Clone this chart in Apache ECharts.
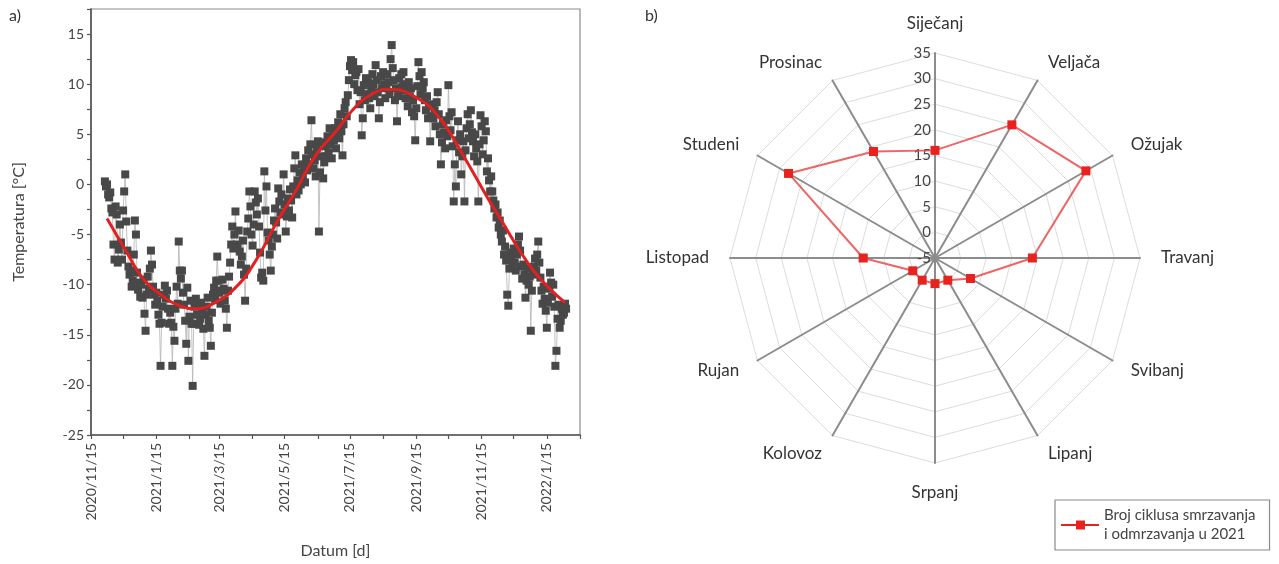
<!DOCTYPE html>
<html>
<head>
<meta charset="utf-8">
<script src="https://cdn.jsdelivr.net/npm/echarts@6/dist/echarts.min.js"></script>
<style>
  html, body { margin: 0; padding: 0; background: #fff; }
  #chart { width: 1279px; height: 564px; }
</style>
</head>
<body>
<div id="chart"></div>
<script>
// ---- a) daily air temperature ----
const tempStart = '2020-11-28';
const dailyTemp = [
  // Nov 2020 (28-30)
  0.3, -0.2, 0,
  // Dec 2020
  -1.0, -1.3, -0.8, -2.4, -2.8, -6.0, -7.5, -2.2, -3.0, -7.8, -6.5, -4.0, -5.8, -7.5, -2.6, -0.7,
  1.0, -3.7, -6.6, -8.2, -9.0, -8.6, -10.2, -9.6, -7.0, -3.6, -5.0, -8.8, -10.5, -9.8, -11.2,
  // Jan 2021
  -10.0, -11.3, -9.5, -12.9, -14.6, -11.0, -9.2, -10.4, -8.4, -6.6, -8.0, -10.2, -11.0, -12.0, -10.8, -11.6,
  -13.0, -13.9, -18.1, -13.8, -12.2, -11.0, -10.1, -11.4, -10.6, -12.4, -13.9, -12.8, -13.8, -18.1, -14.2,
  // Feb 2021
  -15.6, -12.4, -10.2, -11.9, -5.7, -8.6, -9.4, -8.6, -10.8, -12.0, -13.6, -15.9, -10.3, -17.6,
  -13.2, -11.6, -13.9, -20.1, -13.9, -12.2, -11.4, -13.0, -12.0, -14.0, -13.4, -11.8, -12.6, -14.4,
  // Mar 2021
  -17.1, -13.0, -12.2, -11.3, -13.6, -14.3, -16.1, -12.8, -11.0, -10.3, -11.5, -9.6, -7.2, -9.6, -10.8, -11.9,
  -10.6, -9.5, -10.4, -11.6, -12.4, -14.3, -10.6, -9.2, -7.8, -6.0, -4.2, -6.4, -5.0, -2.7, -6.0,
  // Apr 2021
  -6.3, -4.6, -6.7, -8.0, -7.2, -5.6, -9.0, -11.6, -8.4, -4.7, -3.4, -0.7, -2.2, -5.0, -6.1,
  -4.0, -0.7, -1.8, -3.0, -1.4, -4.2, -6.8, -9.3, -8.8, -9.6, 1.3, -2.6, -0.2, -4.8, -5.6,
  // May 2021
  -7.0, -8.6, -6.2, -5.0, -3.6, -2.4, -3.8, -5.4, -0.4, -1.7, -2.8, -1.0, -3.0, 1.0, -2.0, -4.7,
  -3.2, -1.4, -2.6, -0.5, -1.6, -3.3, -0.2, 1.6, 2.9, -1.0, 0.4, -0.6, 1.2, 0.0, 2.0,
  // Jun 2021
  0.8, 1.8, 0.2, 2.6, 1.4, 3.4, 2.0, 4.0, 6.4, 3.0, 1.6, 2.4, 0.8, 3.6, 4.3,
  -4.7, 1.2, 2.8, 4.2, 0.6, 2.2, 3.8, 2.8, 4.8, 3.2, 5.6, 4.0, 2.6, 5.0, 4.4,
  // Jul 2021
  5.6, 3.6, 5.0, 6.2, 4.6, 7.0, 5.3, 2.9, 6.0, 7.6, 8.2, 6.8, 8.9, 10.4, 11.8, 12.4,
  11.4, 12.2, 10.0, 10.9, 11.2, 9.4, 11.5, 8.0, 9.2, 4.9, 6.6, 9.9, 8.4, 10.6, 9.0,
  // Aug 2021
  10.2, 8.6, 7.6, 9.6, 11.0, 10.0, 8.8, 11.9, 10.4, 9.2, 6.6, 8.2, 10.8, 9.6, 11.2, 10.0,
  8.6, 9.8, 11.0, 10.2, 9.0, 12.5, 13.9, 11.6, 10.4, 8.4, 9.6, 6.3, 8.8, 10.6, 9.4,
  // Sep 2021
  11.0, 9.8, 11.2, 10.0, 8.6, 9.4, 7.8, 10.2, 8.8, 9.6, 7.2, 8.4, 6.8, 4.4, 7.6,
  9.8, 12.2, 10.8, 9.0, 11.2, 9.6, 10.2, 8.4, 7.4, 8.8, 6.6, 7.8, 4.3, 6.8, 8.0,
  // Oct 2021
  6.6, 7.4, 5.8, 8.2, 9.2, 7.0, 5.0, 2.0, 4.2, 6.0, 5.2, 3.6, 6.4, 4.8, 9.9, 6.8,
  5.4, 7.2, 3.8, -1.7, 2.0, -0.2, 4.4, 6.3, 3.2, 5.0, 1.0, 2.8, 4.3, -1.7, 3.4,
  // Nov 2021
  5.6, 7.0, 4.6, 6.0, 7.4, 5.2, 4.3, 2.8, 5.0, 3.6, 2.3, -1.7, 4.0, 6.9, 5.8,
  3.0, 4.4, 6.3, 5.3, 1.3, 2.6, 0.4, -0.7, 0.8, -0.7, -1.6, -2.4, -2.0, -3.3, -2.8,
  // Dec 2021
  -4.3, -3.6, -5.0, -5.7, -4.6, -7.0, -6.2, -7.6, -11.0, -12.1, -8.4, -6.8, -7.4, -8.0, -6.4, -7.8,
  -8.6, -7.0, -6.0, -5.2, -6.6, -8.2, -9.4, -8.0, -9.0, -11.3, -9.6, -8.4, -10.0, -9.2, -14.6,
  // Jan 2022
  -10.6, -9.0, -8.2, -7.4, -8.6, -7.0, -5.7, -7.8, -9.3, -10.6, -11.9, -10.2, -11.4, -12.6, -14.3, -11.8,
  -10.4, -8.8, -9.8, -11.2, -10.0, -12.2, -18.1, -16.6, -13.4, -12.0, -14.3, -13.6, -12.4, -13.0, -12.8,
  // Feb 2022
  -11.9, -12.4
];

// fitted seasonal curve
const fitDates = ['2020-11-30', '2020-12-18', '2021-01-02', '2021-01-18', '2021-02-06', '2021-02-21',
  '2021-03-09', '2021-03-30', '2021-04-18', '2021-05-07', '2021-05-25', '2021-06-13', '2021-07-02',
  '2021-07-19', '2021-08-03', '2021-08-20', '2021-09-16', '2021-10-07', '2021-10-26', '2021-11-21',
  '2021-12-03', '2021-12-28', '2022-01-14', '2022-02-01'];
const fitTemp = [-3.4, -6.7, -9.3, -10.9, -12.1, -12.4, -11.9, -10.3, -7.6, -3.9, -0.7, 2.9, 5.3,
  7.6, 8.9, 9.5, 8.6, 6.6, 3.4, -1.4, -3.5, -7.8, -10.0, -11.8];

// date axis: labelled every two months, ticks every month
const dateLabels = ['2020-11-15', '2021-01-15', '2021-03-15', '2021-05-15', '2021-07-15',
  '2021-09-15', '2021-11-15', '2022-01-15'];
const dateTicks = ['2020-11-15', '2020-12-15', '2021-01-15', '2021-02-15', '2021-03-15', '2021-04-15',
  '2021-05-15', '2021-06-15', '2021-07-15', '2021-08-15', '2021-09-15', '2021-10-15', '2021-11-15',
  '2021-12-15', '2022-01-15', '2022-02-15'];
const tempLabels = [-25, -20, -15, -10, -5, 0, 5, 10, 15];
const tempTicks = [-25, -22.5, -20, -17.5, -15, -12.5, -10, -7.5, -5, -2.5, 0, 2.5, 5, 7.5, 10, 12.5, 15, 17.5];

// ---- b) freeze-thaw cycles per month in 2021 ----
const months = ['Siječanj', 'Veljača', 'Ožujak', 'Travanj', 'Svibanj', 'Lipanj',
  'Srpanj', 'Kolovoz', 'Rujan', 'Listopad', 'Studeni', 'Prosinac'];
const cycles = [16, 25, 29, 14, 3, 0, 0, 0, 0, 9, 28, 19];
const cycleTicks = [-5, 35];
const seriesName = 'Broj ciklusa smrzavanja\ni odmrzavanja u 2021';

// day number counted from the first axis date
const BASE = Date.UTC(2020, 10, 15);
function dayOf(s) {
  const p = s.split('-').map(Number);
  return (Date.UTC(p[0], p[1] - 1, p[2]) - BASE) / 864e5;
}
function dayLabel(v) {
  const d = new Date(BASE + Math.round(v) * 864e5);
  return d.getUTCFullYear() + '/' + (d.getUTCMonth() + 1) + '/' + d.getUTCDate();
}
const startDay = dayOf(tempStart);
const tempData = dailyTemp.map((t, i) => [startDay + i, t]);
const fitData = fitDates.map((s, i) => [dayOf(s), fitTemp[i]]);

// radar indicators run counter-clockwise from the top, so order them
// Jan, Dec, Nov, ... Feb to place the months clockwise
const order = [0, 11, 10, 9, 8, 7, 6, 5, 4, 3, 2, 1];
const indicators = order.map((k, j) => {
  const ind = { name: months[k], min: cycleTicks[0], max: cycleTicks[1] };
  if (j === 0) ind.axisLabel = { show: true };
  return ind;
});
const radarValues = order.map(k => cycles[k]);

// legend key: thin line with a square marker in the middle
const legendIcon = 'path://M0,4 L38,4 L38,6 L0,6 Z M15,0.5 L24,0.5 L24,9.5 L15,9.5 Z';

const FONT = 'Lato';
const chart = echarts.init(document.getElementById('chart'), null, { renderer: 'canvas' });
chart.setOption({
  animation: false,
  textStyle: { fontFamily: FONT },
  graphic: [
    { type: 'text', left: 9, top: 8, style: { text: 'a)', fontSize: 16, fill: '#333', fontFamily: FONT } },
    { type: 'text', left: 645, top: 8, style: { text: 'b)', fontSize: 16, fill: '#333', fontFamily: FONT } }
  ],
  grid: {
    left: 91, top: 9, width: 489, height: 427,
    show: true, borderColor: '#8a8a8a', borderWidth: 1.2, backgroundColor: 'transparent'
  },
  xAxis: {
    type: 'value',
    min: dayOf(dateTicks[0]),
    max: dayOf(dateTicks[dateTicks.length - 1]),
    name: 'Datum [d]',
    nameLocation: 'middle',
    nameGap: 108,
    nameTextStyle: { fontSize: 16, color: '#444', fontFamily: FONT },
    axisLine: { show: true, onZero: false, lineStyle: { color: '#555', width: 1.6 } },
    axisTick: { show: true, inside: false, length: 4, customValues: dateTicks.map(dayOf),
      lineStyle: { color: '#555', width: 1.2 } },
    axisLabel: {
      customValues: dateLabels.map(dayOf),
      formatter: dayLabel,
      rotate: 90, margin: 8, fontSize: 14, color: '#444', fontFamily: FONT
    },
    splitLine: { show: false }
  },
  yAxis: {
    type: 'value',
    min: -25, max: 17.5,
    name: 'Temperatura [°C]',
    nameLocation: 'middle',
    nameGap: 64,
    nameTextStyle: { fontSize: 16, color: '#444', fontFamily: FONT },
    axisLine: { show: true, onZero: false, lineStyle: { color: '#555', width: 1.6 } },
    axisTick: { show: true, inside: false, length: 4, customValues: tempTicks,
      lineStyle: { color: '#555', width: 1.2 } },
    axisLabel: { customValues: tempLabels, margin: 7, fontSize: 14, color: '#444', fontFamily: FONT },
    splitLine: { show: false }
  },
  radar: {
    center: [935, 258],
    radius: 205,
    startAngle: 90,
    splitNumber: 8,
    shape: 'polygon',
    indicator: indicators,
    nameGap: 21,
    axisName: { color: '#333', fontSize: 17, fontFamily: FONT },
    axisLine: { lineStyle: { color: '#8c8c8c', width: 2 } },
    splitLine: { lineStyle: { color: '#dcdcdc', width: 1 } },
    splitArea: { show: false },
    axisTick: { show: false },
    axisLabel: { show: false, fontSize: 15, color: '#444', margin: 4, fontFamily: FONT }
  },
  legend: {
    left: 1055, top: 500,
    orient: 'vertical',
    data: [{ name: seriesName, icon: legendIcon }],
    borderColor: '#8a8a8a', borderWidth: 1.2,
    padding: [6, 14, 6, 6],
    itemWidth: 38, itemHeight: 10, itemGap: 6,
    itemStyle: { color: '#e8231f' },
    textStyle: { fontSize: 15, lineHeight: 19, color: '#444', fontFamily: FONT }
  },
  series: [
    {
      type: 'line',
      name: 'Temperatura',
      data: tempData,
      symbol: 'rect',
      symbolSize: 8,
      itemStyle: { color: '#484848' },
      lineStyle: { color: '#b4b4b4', width: 0.8 },
      z: 2
    },
    {
      type: 'line',
      name: 'Fit',
      data: fitData,
      smooth: 0.5,
      showSymbol: false,
      lineStyle: { color: '#e1201f', width: 3 },
      z: 3
    },
    {
      type: 'radar',
      name: seriesName,
      data: [{ value: radarValues, name: seriesName }],
      symbol: 'rect',
      symbolSize: 9,
      itemStyle: { color: '#e8231f' },
      lineStyle: { color: 'rgba(232,64,64,0.8)', width: 2 },
      z: 4
    }
  ]
});
</script>
</body>
</html>
